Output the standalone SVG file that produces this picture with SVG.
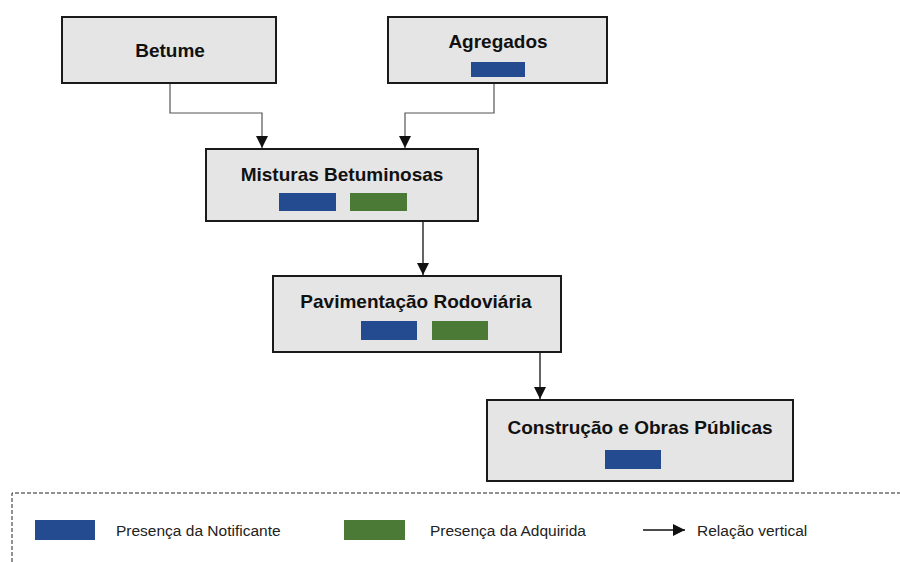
<svg xmlns="http://www.w3.org/2000/svg" width="900" height="562" viewBox="0 0 900 562">
<style>
.box{fill:#e5e5e5;stroke:#1a1a1a;stroke-width:2}
.t{font-family:"Liberation Sans",Arial,sans-serif;font-weight:bold;font-size:19px;fill:#111;text-anchor:middle}
.lt{font-family:"Liberation Sans",Arial,sans-serif;font-size:15.5px;fill:#222}
.b{fill:#244a8f}
.g{fill:#4b7a37}
.c{fill:none;stroke:#555;stroke-width:1.2}
.ck{fill:none;stroke:#111;stroke-width:1.3}
</style>
<defs>
<marker id="ah" viewBox="0 0 12 12" refX="12" refY="6" markerWidth="12" markerHeight="12" markerUnits="userSpaceOnUse" orient="auto">
<path d="M0,0 L12,6 L0,12 Z" fill="#111"/>
</marker>
</defs>
<rect width="900" height="562" fill="#ffffff"/>
<g id="connectors">
<path class="c" d="M170,83 V113 H262 V148" marker-end="url(#ah)"/>
<path class="c" d="M494,83 V113 H405 V148" marker-end="url(#ah)"/>
<path class="ck" d="M423,221 V275" marker-end="url(#ah)"/>
<path class="ck" d="M540,352 V399" marker-end="url(#ah)"/>
</g>
<g id="betume">
<rect class="box" x="62" y="17" width="214" height="66"/>
<text class="t" x="170" y="57">Betume</text>
</g>
<g id="agregados">
<rect class="box" x="388" y="17" width="219" height="66"/>
<text class="t" x="498" y="48">Agregados</text>
<rect class="b" x="471" y="62" width="54" height="15"/>
</g>
<g id="misturas">
<rect class="box" x="206" y="149" width="272" height="72"/>
<text class="t" x="342" y="181">Misturas Betuminosas</text>
<rect class="b" x="279" y="193" width="57" height="18"/>
<rect class="g" x="350" y="193" width="57" height="18"/>
</g>
<g id="pavimentacao">
<rect class="box" x="273" y="276" width="288" height="76"/>
<text class="t" x="416" y="308">Pavimentação Rodoviária</text>
<rect class="b" x="361" y="321" width="56" height="19"/>
<rect class="g" x="432" y="321" width="56" height="19"/>
</g>
<g id="construcao">
<rect class="box" x="487" y="400" width="306" height="81"/>
<text class="t" x="640" y="434">Construção e Obras Públicas</text>
<rect class="b" x="605" y="450" width="56" height="19"/>
</g>
<g id="legend">
<path d="M12,562 V493 H900" fill="none" stroke="#222" stroke-width="1" stroke-dasharray="4,2"/>
<rect class="b" x="35" y="520" width="60" height="20"/>
<text class="lt" x="116" y="536">Presença da Notificante</text>
<rect class="g" x="344" y="520" width="61" height="20"/>
<text class="lt" x="430" y="536">Presença da Adquirida</text>
<path class="ck" d="M643,530 H685" marker-end="url(#ah)"/>
<text class="lt" x="697" y="536">Relação vertical</text>
</g>
</svg>
